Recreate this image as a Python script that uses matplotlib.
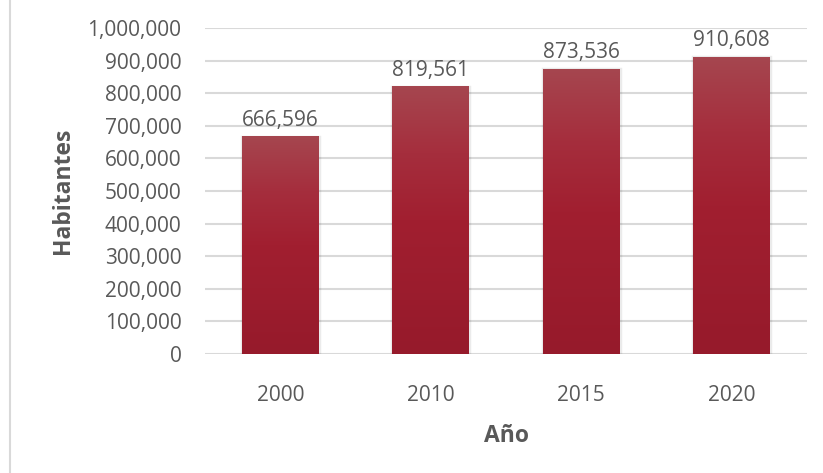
import numpy as np
import matplotlib.pyplot as plt
from matplotlib.colors import LinearSegmentedColormap
from matplotlib.lines import Line2D

years = ['2000', '2010', '2015', '2020']
habitantes = [666596, 819561, 873536, 910608]
yticks = list(range(0, 1000001, 100000))

plt.rcParams['font.family'] = ['Open Sans', 'DejaVu Sans']
txt = '#595959'

fig = plt.figure(figsize=(8.23, 4.73), dpi=100)
ax = fig.add_axes([205/823, 1-354/473, 602/823, 326/473])

x = np.arange(len(years))
w = 0.51
# faint shadow behind each bar
bars = ax.bar(x, habitantes, width=w, color='none', edgecolor='#000000',
              linewidth=2.5, alpha=0.08, zorder=2)

cmap = LinearSegmentedColormap.from_list(
    'g', [(0, '#961a2b'), (0.5, '#a11f30'), (0.75, '#a52e3d'), (1, '#a6464f')])
grad = np.linspace(0, 1, 256).reshape(-1, 1)
for b in bars:
    x0, y0 = b.get_x(), b.get_y()
    ax.imshow(grad, cmap=cmap, origin='lower', aspect='auto', zorder=3,
              extent=[x0, x0 + b.get_width(), y0, y0 + b.get_height()])

for xi, v in zip(x, habitantes):
    ax.text(xi, v + 18000, f'{v:,}', ha='center', va='bottom', fontsize=15, color=txt)

ax.set_xlim(-0.5, len(years) - 0.5)
ax.set_ylim(0, 1000000)
ax.set_yticks(yticks)
ax.set_yticklabels([f'{t:,}' for t in yticks])
ax.set_xticks(x)
ax.set_xticklabels(years)
ax.tick_params(length=0, labelsize=15, labelcolor=txt)
ax.tick_params(axis='y', pad=17)
ax.tick_params(axis='x', pad=22)
ax.grid(axis='y', color='#d9d9d9', linewidth=1.5, zorder=0)
ax.set_axisbelow(True)
for s in ax.spines.values():
    s.set_visible(False)

ax.set_ylabel('Habitantes', fontsize=16.5, fontweight='bold', color=txt, labelpad=9)
ax.set_xlabel('Año', fontsize=16.5, fontweight='bold', color=txt, labelpad=13)

fig.add_artist(Line2D([10/823, 10/823], [0, 1], color='#d9d9d9', linewidth=1.5))

fig.savefig('out.png', dpi=100)
